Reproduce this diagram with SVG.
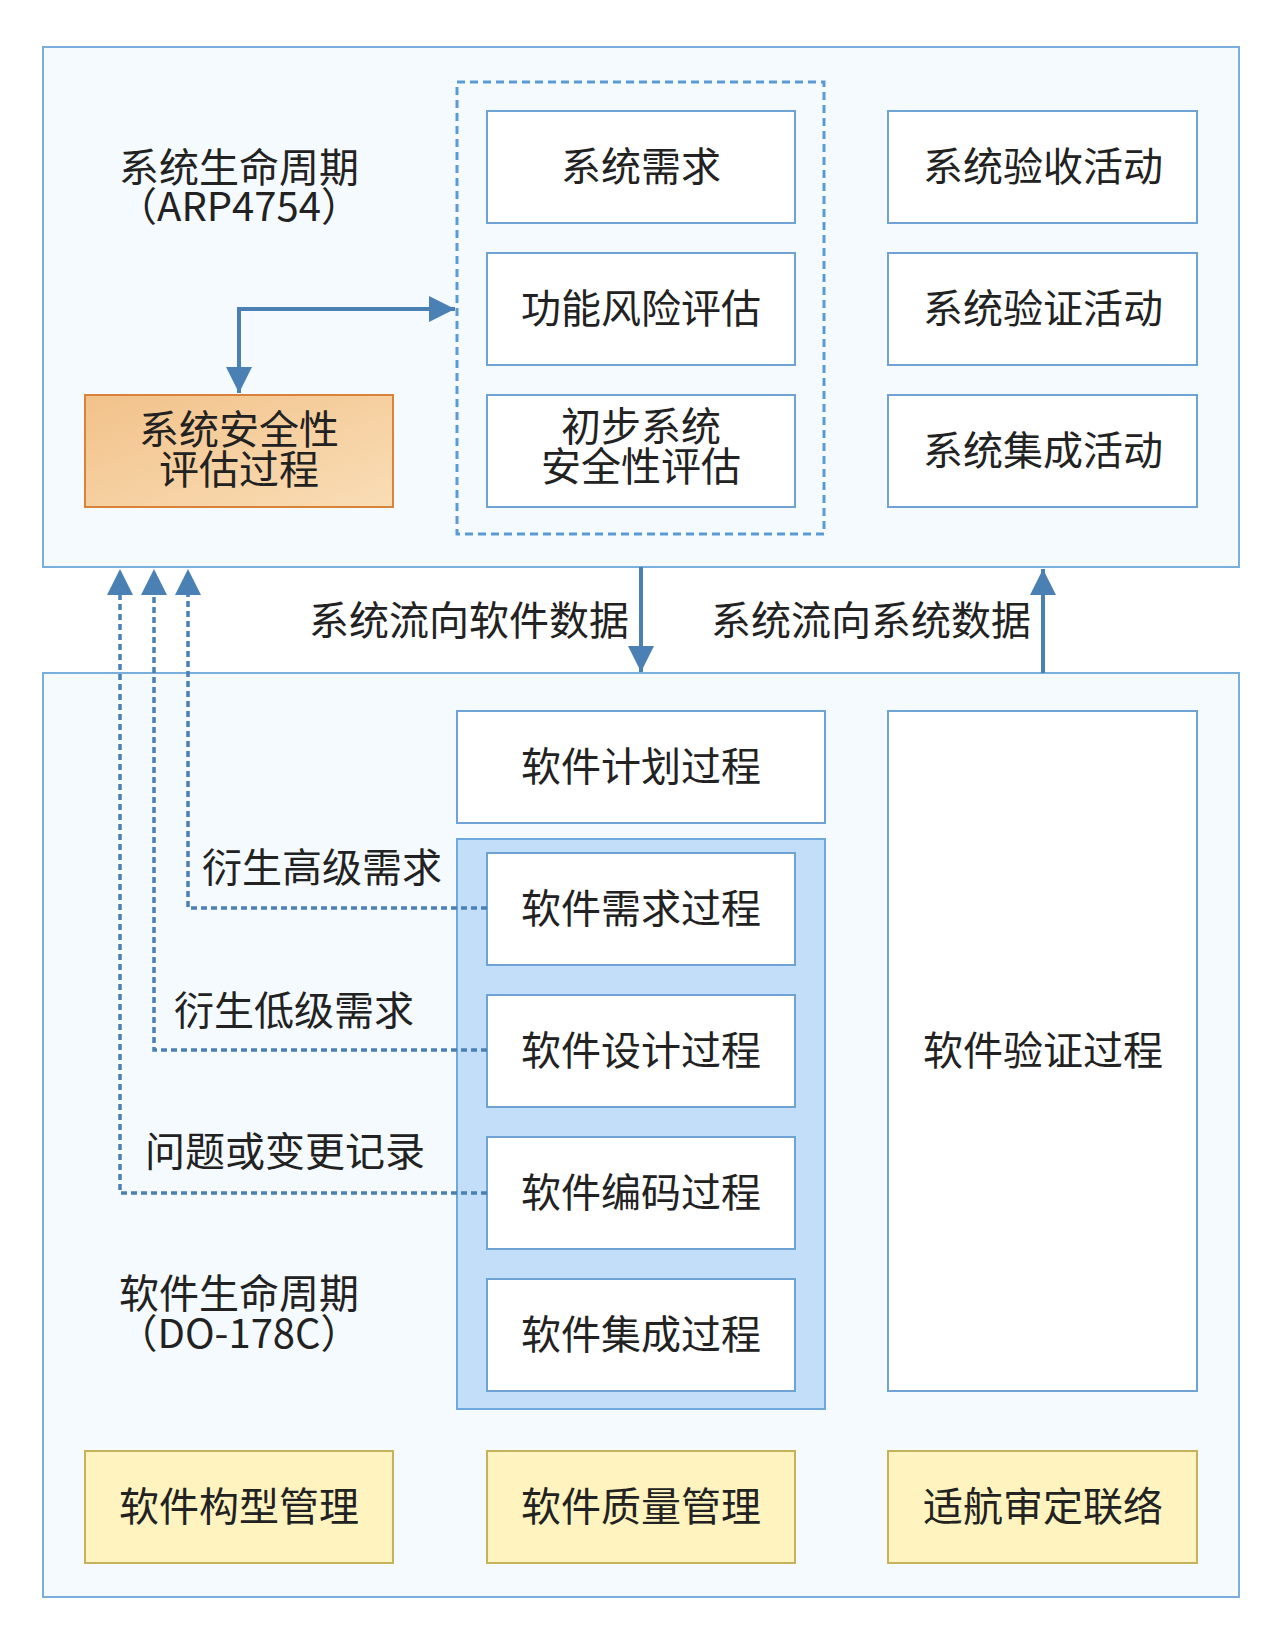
<svg xmlns="http://www.w3.org/2000/svg" width="1286" height="1644" viewBox="0 0 1286 1644">
<defs>
<linearGradient id="og" x1="0" y1="0" x2="1" y2="1">
<stop offset="0" stop-color="#F2C28A"/>
<stop offset="1" stop-color="#F9DDB6"/>
</linearGradient>
<marker id="ah" viewBox="0 0 26 26" refX="26" refY="13" markerWidth="26" markerHeight="26" markerUnits="userSpaceOnUse" orient="auto-start-reverse">
<path d="M0,0 L26,13 L0,26 Z" fill="#4A80B3"/>
</marker>
</defs>
<style>
text{font-family:"Noto Sans CJK SC","Noto Sans",sans-serif;font-size:40px;fill:#222;}
.c{text-anchor:middle;}
.outer{fill:#F5FAFE;stroke:#7AAEDC;stroke-width:2;}
.box{fill:#FFFFFF;stroke:#6FA3D6;stroke-width:2;}
.yel{fill:#FFF4BF;stroke:#C6B25A;stroke-width:2;}
.ora{fill:url(#og);stroke:#D9823A;stroke-width:2;}
.con{fill:none;stroke:#4A80B3;stroke-width:4;}
.dot{fill:none;stroke:#4A80B3;stroke-width:3.5;stroke-dasharray:6 4;}
</style>
<rect width="1286" height="1644" fill="#FFFFFF"/>

<g id="system-lifecycle">
<rect class="outer" x="43" y="47" width="1196" height="520"/>
<text class="c" x="239" y="182">系统生命周期<tspan x="239" dy="39">（ARP4754）</tspan></text>
</g>

<g id="software-lifecycle">
<rect class="outer" x="43" y="673" width="1196" height="924"/>
<text class="c" x="239" y="1308">软件生命周期<tspan x="239" dy="40">（DO-178C）</tspan></text>
</g>

<g id="system-dev-group">
<rect x="457" y="82" width="367" height="452" fill="none" stroke="#5B9BD5" stroke-width="3" stroke-dasharray="8 5"/>
</g>

<g id="sys-req">
<rect class="box" x="487" y="111" width="308" height="112"/>
<text class="c" x="641" y="181">系统需求</text>
</g>
<g id="fha">
<rect class="box" x="487" y="253" width="308" height="112"/>
<text class="c" x="641" y="323">功能风险评估</text>
</g>
<g id="pssa">
<rect class="box" x="487" y="395" width="308" height="112"/>
<text class="c" x="641" y="441">初步系统<tspan x="641" dy="40">安全性评估</tspan></text>
</g>

<g id="sys-accept">
<rect class="box" x="888" y="111" width="309" height="112"/>
<text class="c" x="1043" y="181">系统验收活动</text>
</g>
<g id="sys-verify">
<rect class="box" x="888" y="253" width="309" height="112"/>
<text class="c" x="1043" y="323">系统验证活动</text>
</g>
<g id="sys-integ">
<rect class="box" x="888" y="395" width="309" height="112"/>
<text class="c" x="1043" y="465">系统集成活动</text>
</g>

<g id="safety-assess">
<rect class="ora" x="85" y="395" width="308" height="112"/>
<text class="c" x="239" y="444">系统安全性<tspan x="239" dy="40">评估过程</tspan></text>
</g>

<g id="sw-plan">
<rect class="box" x="457" y="711" width="368" height="112"/>
<text class="c" x="641" y="781">软件计划过程</text>
</g>

<g id="sw-dev-group">
<rect x="457" y="839" width="368" height="570" fill="#C3DEF8" stroke="#6FA8DC" stroke-width="2"/>
</g>

<g id="sw-req">
<rect class="box" x="487" y="853" width="308" height="112"/>
<text class="c" x="641" y="923">软件需求过程</text>
</g>
<g id="sw-design">
<rect class="box" x="487" y="995" width="308" height="112"/>
<text class="c" x="641" y="1065">软件设计过程</text>
</g>
<g id="sw-code">
<rect class="box" x="487" y="1137" width="308" height="112"/>
<text class="c" x="641" y="1207">软件编码过程</text>
</g>
<g id="sw-integ">
<rect class="box" x="487" y="1279" width="308" height="112"/>
<text class="c" x="641" y="1349">软件集成过程</text>
</g>

<g id="sw-verify">
<rect class="box" x="888" y="711" width="309" height="680"/>
<text class="c" x="1043" y="1065">软件验证过程</text>
</g>

<g id="sw-cm">
<rect class="yel" x="85" y="1451" width="308" height="112"/>
<text class="c" x="239" y="1521">软件构型管理</text>
</g>
<g id="sw-qa">
<rect class="yel" x="487" y="1451" width="308" height="112"/>
<text class="c" x="641" y="1521">软件质量管理</text>
</g>
<g id="cert-liaison">
<rect class="yel" x="888" y="1451" width="309" height="112"/>
<text class="c" x="1043" y="1521">适航审定联络</text>
</g>

<g id="connectors">
<path class="con" d="M239,393 L239,309 L455,309" marker-start="url(#ah)" marker-end="url(#ah)"/>
<path class="con" d="M641,567 L641,672" marker-end="url(#ah)"/>
<path class="con" d="M1043,673 L1043,569" marker-end="url(#ah)"/>
<path class="dot" d="M487,908 L188,908 L188,595"/>
<path class="dot" d="M487,1050 L154,1050 L154,595"/>
<path class="dot" d="M487,1193 L120,1193 L120,595"/>
<path d="M175,595 L188,569 L201,595 Z" fill="#4A80B3"/>
<path d="M141,595 L154,569 L167,595 Z" fill="#4A80B3"/>
<path d="M107,595 L120,569 L133,595 Z" fill="#4A80B3"/>
<text x="629" y="635" style="text-anchor:end">系统流向软件数据</text>
<text x="711" y="635">系统流向系统数据</text>
<text x="202" y="882">衍生高级需求</text>
<text x="174" y="1025">衍生低级需求</text>
<text x="145" y="1166">问题或变更记录</text>
</g>
</svg>
